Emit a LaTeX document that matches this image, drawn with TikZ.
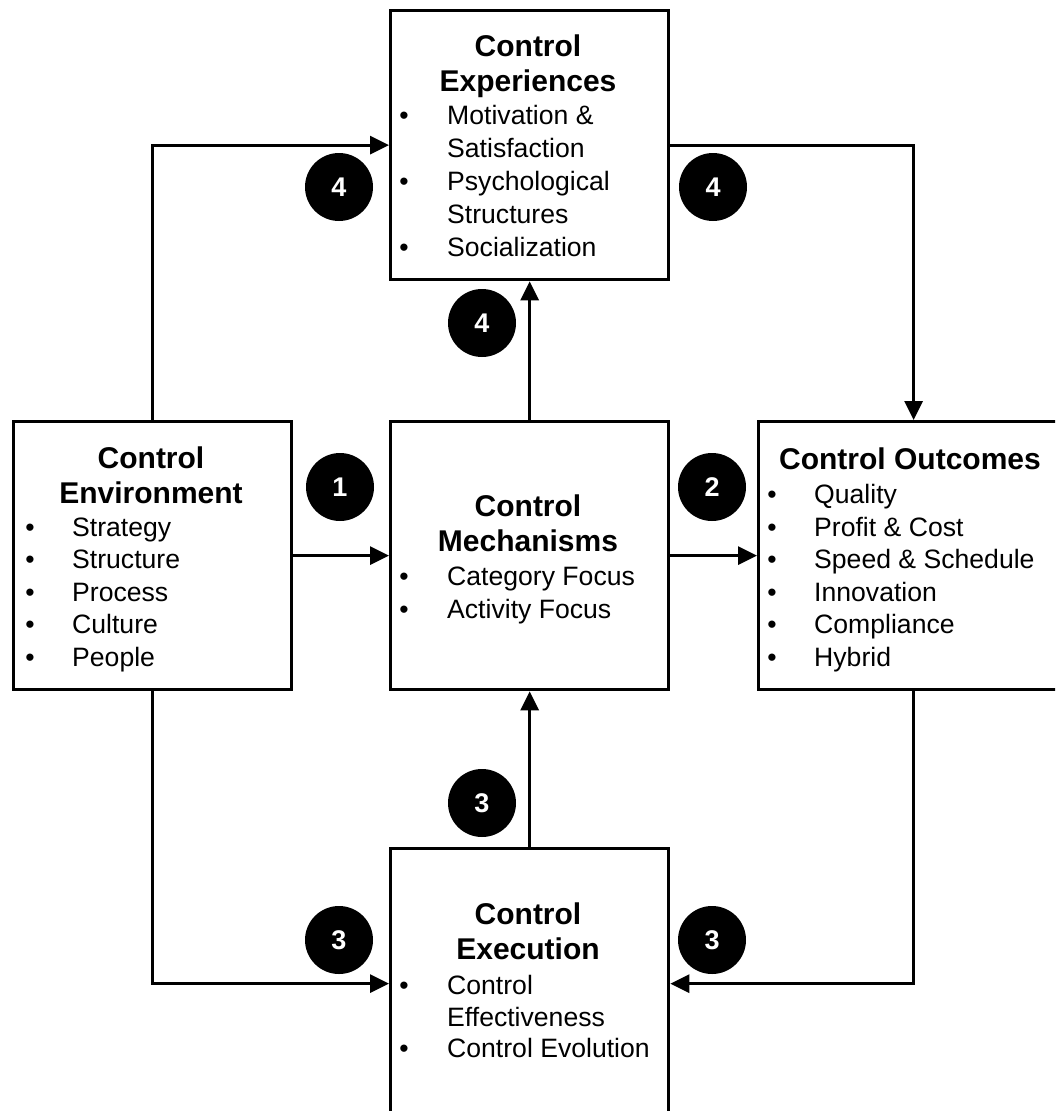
\documentclass[tikz,border=0pt]{standalone}
\usepackage{fontspec}
\setmainfont{Liberation Sans}
\usetikzlibrary{arrows.meta}
\tikzset{
  box/.style={draw, line width=3.3pt, fill=white, anchor=north west, inner sep=0, minimum width=278pt},
  conn/.style={line width=3pt, -{Triangle[length=19pt,width=18pt]}},
  ttl/.style={anchor=base, inner sep=0, font=\bfseries\fontsize{30}{35}\selectfont},
  itxt/.style={anchor=base west, inner sep=0, font=\fontsize{26.6}{32}\selectfont},
  bul/.style={anchor=base, inner sep=0, font=\fontsize{26.6}{32}\selectfont},
  num/.style={circle, fill=black, minimum size=68pt, inner sep=0, text=white, font=\bfseries\fontsize{27}{27}\selectfont}
}
\newcommand\itm[5]{\node[bul] (#1b) at (#2,#4) {\textbullet}; \node[itxt] (#1) at (#3,#4) {#5};}
\begin{document}
\begin{tikzpicture}[x=1pt,y=-1pt]
\useasboundingbox (0,0) rectangle (1055,1111);
\clip (0,0) rectangle (1055,1111);
% boxes
\node[box, minimum height=269pt] (exp) at (389,9) {};
\node[box, minimum height=268pt] (env) at (12,420) {};
\node[box, minimum height=268pt] (mech) at (389,420) {};
\node[box, minimum height=268pt, minimum width=310pt] (out) at (757,420) {};
\node[box, minimum height=270pt] (exe) at (389,847) {};
% connectors
\draw[conn] (env.north) |- (exp.west);
\draw[conn] (mech.north) -- (exp.south);
\draw[conn] (exp.east) -| (out.north);
\draw[conn] (env.east) -- (mech.west);
\draw[conn] (mech.east) -- (out.west);
\draw[conn] (exe.north) -- (mech.south);
\draw[conn] (env.south) |- (exe.west);
\draw[conn] (out.south) |- (exe.east);
% numbered circles
\node[num] (n4a) at (339,187) {4};
\node[num] (n4b) at (713,187) {4};
\node[num] (n4c) at (482,323) {4};
\node[num] (n1) at (340,487) {1};
\node[num] (n2) at (712,487) {2};
\node[num] (n3a) at (482,803) {3};
\node[num] (n3b) at (339,940) {3};
\node[num] (n3c) at (712,940) {3};
% Experiences
\node[ttl] (expt1) at (528,56) {Control};
\node[ttl] (expt2) at (528,91) {Experiences};
\itm{expi1}{404}{447}{124.5}{Motivation \&}
\node[itxt] (expi1x) at (447,157.5) {Satisfaction};
\itm{expi2}{404}{447}{190.5}{Psychological}
\node[itxt] (expi2x) at (447,223.5) {Structures};
\itm{expi3}{404}{447}{256.5}{Socialization}
% Environment
\node[ttl] (envt1) at (151,468) {Control};
\node[ttl] (envt2) at (151,503) {Environment};
\itm{envi1}{30}{72}{536}{Strategy}
\itm{envi2}{30}{72}{568.5}{Structure}
\itm{envi3}{30}{72}{601}{Process}
\itm{envi4}{30}{72}{633.5}{Culture}
\itm{envi5}{30}{72}{666}{People}
% Mechanisms
\node[ttl] (mecht1) at (528,516) {Control};
\node[ttl] (mecht2) at (528,551) {Mechanisms};
\itm{mechi1}{404}{447}{585}{Category Focus}
\itm{mechi2}{404}{447}{618}{Activity Focus}
% Outcomes
\node[ttl] (outt1) at (910,469) {Control Outcomes};
\itm{outi1}{772}{814}{503.5}{Quality}
\itm{outi2}{772}{814}{536}{Profit \& Cost}
\itm{outi3}{772}{814}{568.5}{Speed \& Schedule}
\itm{outi4}{772}{814}{601}{Innovation}
\itm{outi5}{772}{814}{633.5}{Compliance}
\itm{outi6}{772}{814}{666}{Hybrid}
% Execution
\node[ttl] (exet1) at (528,924) {Control};
\node[ttl] (exet2) at (528,959) {Execution};
\itm{exei1}{404}{447}{994.5}{Control}
\node[itxt] (exei1x) at (447,1026) {Effectiveness};
\itm{exei2}{404}{447}{1057.5}{Control Evolution}
\end{tikzpicture}
\end{document}
